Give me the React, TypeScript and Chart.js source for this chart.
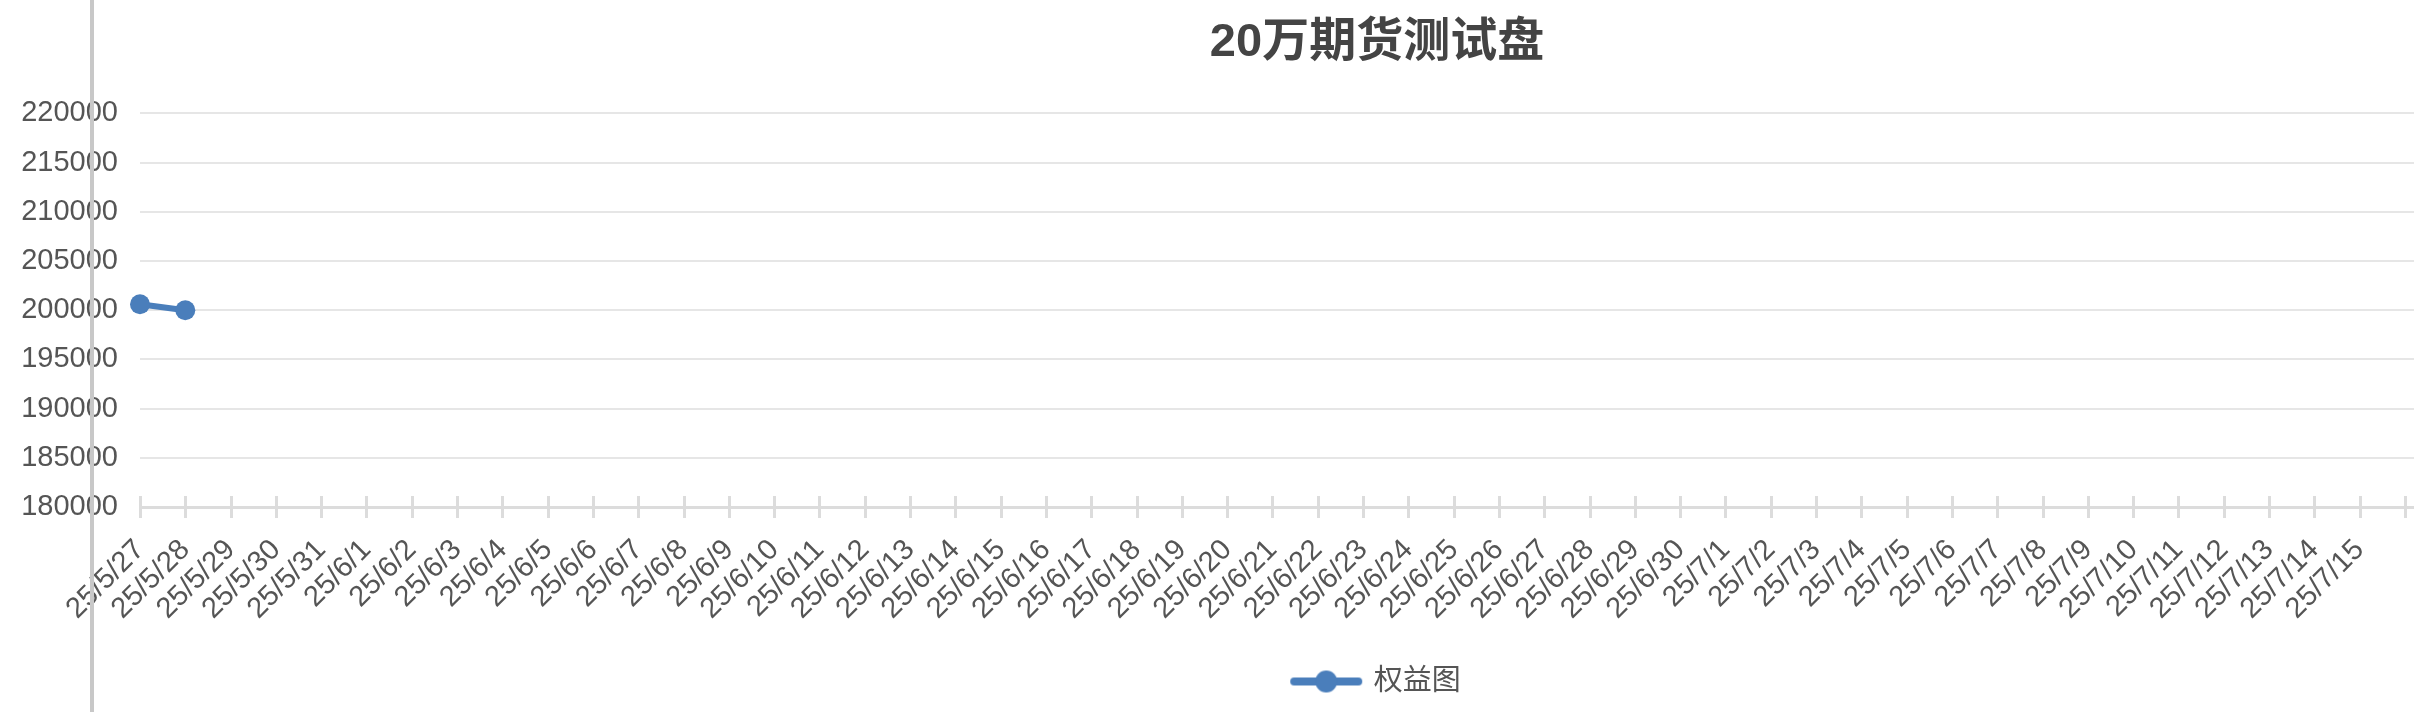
import { useEffect, useRef } from 'react';
import { Chart, registerables } from 'chart.js';

Chart.register(...registerables);

// x categories: 25/5/27 .. 25/7/15, then empty slots the axis still reserves
const dateLabels = [
  '25/5/27', '25/5/28', '25/5/29', '25/5/30', '25/5/31',
  '25/6/1', '25/6/2', '25/6/3', '25/6/4', '25/6/5', '25/6/6', '25/6/7', '25/6/8', '25/6/9', '25/6/10',
  '25/6/11', '25/6/12', '25/6/13', '25/6/14', '25/6/15', '25/6/16', '25/6/17', '25/6/18', '25/6/19', '25/6/20',
  '25/6/21', '25/6/22', '25/6/23', '25/6/24', '25/6/25', '25/6/26', '25/6/27', '25/6/28', '25/6/29', '25/6/30',
  '25/7/1', '25/7/2', '25/7/3', '25/7/4', '25/7/5', '25/7/6', '25/7/7', '25/7/8', '25/7/9', '25/7/10',
  '25/7/11', '25/7/12', '25/7/13', '25/7/14', '25/7/15',
];
const trailingBlanks = ['', '', '', '', '', '', '', ''];

// 权益 values (only the first two days have data)
const equityValues = [200600, 200000];

const yMin = 180000;
const yMax = 220000;
const yStep = 5000;

const BLUE = '#4a7ebb';
const FONT = "'Liberation Sans', 'Noto Sans CJK SC', sans-serif";

// ticks that cross the x axis line (above and below)
const crossTicks = {
  id: 'crossTicks',
  afterDraw(chart: Chart) {
    const x = chart.scales.x;
    const ctx = chart.ctx;
    const y0 = chart.chartArea.bottom;
    ctx.save();
    ctx.strokeStyle = '#dcdcdc';
    ctx.lineWidth = 3;
    for (let i = 0; i < x.ticks.length; i++) {
      const px = Math.round(x.getPixelForTick(i)) + 0.5;
      ctx.beginPath();
      ctx.moveTo(px, y0 - 11);
      ctx.lineTo(px, y0 + 11);
      ctx.stroke();
    }
    ctx.restore();
  },
};

function legendIcon() {
  const c = document.createElement('canvas');
  c.width = 74;
  c.height = 24;
  const g = c.getContext('2d');
  if (g) {
    g.strokeStyle = BLUE;
    g.lineWidth = 8;
    g.lineCap = 'round';
    g.beginPath();
    g.moveTo(5, 12);
    g.lineTo(69, 12);
    g.stroke();
    g.fillStyle = BLUE;
    g.beginPath();
    g.arc(37, 12, 11, 0, Math.PI * 2);
    g.fill();
  }
  return c;
}

function EquityChart() {
  const chartRef = useRef<HTMLCanvasElement>(null);
  const chartInstance = useRef<Chart | null>(null);

  useEffect(() => {
    if (!chartRef.current) return;
    if (chartInstance.current) chartInstance.current.destroy();
    const ctx = chartRef.current.getContext('2d');
    if (!ctx) return;

    const icon = legendIcon();

    chartInstance.current = new Chart(ctx, {
      type: 'line',
      data: {
        labels: [...dateLabels, ...trailingBlanks],
        datasets: [
          {
            label: '权益图',
            data: equityValues,
            borderColor: BLUE,
            backgroundColor: BLUE,
            borderWidth: 6,
            pointRadius: 10,
            pointBorderWidth: 0,
            pointBackgroundColor: BLUE,
            tension: 0,
            fill: false,
          },
        ],
      },
      options: {
        animation: false,
        responsive: true,
        maintainAspectRatio: false,
        layout: { padding: { left: 18, right: 18, top: 0, bottom: 6 } },
        plugins: {
          title: {
            display: true,
            text: '20万期货测试盘',
            color: '#444',
            font: { family: FONT, size: 47, weight: 'bold' },
            padding: { top: 15, bottom: 42 },
          },
          legend: {
            position: 'bottom',
            labels: {
              usePointStyle: true,
              pointStyleWidth: 66,
              color: '#555',
              font: { family: FONT, size: 29 },
              padding: 10,
              generateLabels: () => [
                {
                  text: '权益图',
                  pointStyle: icon,
                  fillStyle: BLUE,
                  strokeStyle: BLUE,
                  lineWidth: 0,
                  hidden: false,
                  datasetIndex: 0,
                  fontColor: '#555',
                },
              ],
            },
          },
          tooltip: { enabled: false },
        },
        scales: {
          x: {
            offset: false,
            afterFit: (s: any) => {
              s.height = 150;
              s.paddingLeft = 0;
              s.paddingRight = 32;
            },
            grid: { drawOnChartArea: false, drawTicks: false },
            border: { display: true, color: '#dcdcdc', width: 3 },
            ticks: {
              autoSkip: false,
              minRotation: 45,
              maxRotation: 45,
              padding: 26,
              color: '#555',
              font: { family: FONT, size: 29 },
            },
          },
          y: {
            min: yMin,
            max: yMax,
            afterFit: (s: any) => {
              s.width = 122;
            },
            grid: { color: '#e6e6e6', lineWidth: 2, drawTicks: false },
            border: { display: false },
            ticks: {
              stepSize: yStep,
              padding: 22,
              color: '#555',
              font: { family: FONT, size: 29 },
              callback: (v: any) => String(v),
            },
          },
        },
      },
      plugins: [crossTicks],
    });

    return () => {
      if (chartInstance.current) {
        chartInstance.current.destroy();
        chartInstance.current = null;
      }
    };
  }, []);

  return (
    <div style={{ position: 'absolute', left: 0, top: 0, width: 2754, height: 712 }}>
      <canvas ref={chartRef} />
    </div>
  );
}

export default function App() {
  return (
    <div
      style={{
        position: 'fixed',
        left: 0,
        top: 0,
        width: 2414,
        height: 712,
        overflow: 'hidden',
        background: '#fff',
      }}
    >
      <EquityChart />
      <div
        style={{
          position: 'absolute',
          left: 90,
          top: 0,
          width: 4,
          height: 712,
          background: '#c8c8c8',
        }}
      />
    </div>
  );
}
